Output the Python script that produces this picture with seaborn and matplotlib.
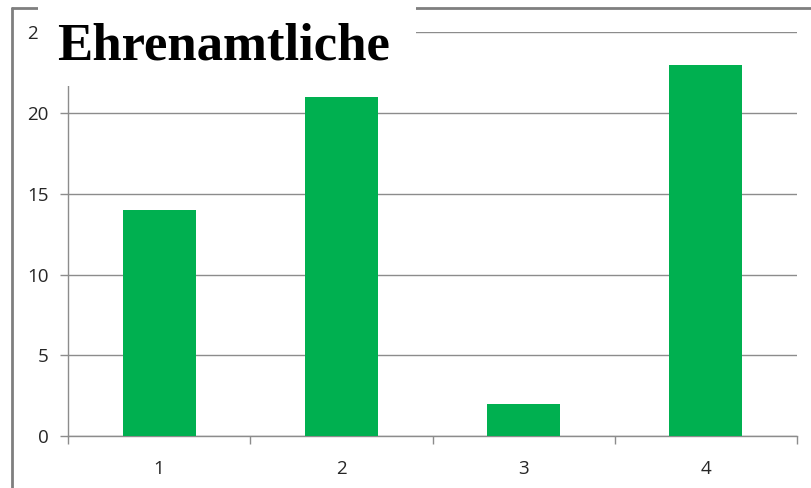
import matplotlib
matplotlib.use("Agg")
import matplotlib.pyplot as plt
import numpy as np
import pandas as pd
import seaborn as sns
from matplotlib.lines import Line2D
from matplotlib.patches import Rectangle

# chart data
categories = ["1", "2", "3", "4"]
values = [14, 21, 2, 23]
y_ticks = [0, 5, 10, 15, 20, 25]
title = "Ehrenamtliche"

sns.set_theme(style="white")
plt.rcParams["font.family"] = ["Open Sans", "DejaVu Sans"]

df = pd.DataFrame({"cat": categories, "val": values})

fig = plt.figure(figsize=(8.11, 4.88), dpi=100)
ax = fig.add_axes([68 / 811, 52 / 488, (797 - 68) / 811, (436 - 32.3) / 488])

sns.barplot(data=df, x="cat", y="val", color="#00B050", width=0.4,
            saturation=1, linewidth=0, ax=ax, zorder=3)

grid_c = "#8c8c8c"
ax.set_ylim(0, 25)
ax.set_xlim(-0.5, 3.5)
ax.set_yticks(y_ticks)
ax.yaxis.grid(True, color=grid_c, linewidth=1)
ax.set_axisbelow(True)
ax.set_xlabel("")
ax.set_ylabel("")

for s in ["top", "right"]:
    ax.spines[s].set_visible(False)
for s in ["left", "bottom"]:
    ax.spines[s].set_color(grid_c)
    ax.spines[s].set_linewidth(1)

ax.tick_params(axis="y", left=True, length=6, width=1, color=grid_c,
               labelsize=13.5, labelcolor="#262626", pad=8)
ax.tick_params(axis="x", bottom=False, labelsize=13.5, labelcolor="#262626", pad=11)
ax.set_xticks(np.arange(-0.5, 4, 1), minor=True)
ax.tick_params(axis="x", which="minor", bottom=True, length=6, width=1,
               color=grid_c)

# outer frame of the slide box
frame_c = "#7f7f7f"
fig.add_artist(Line2D([12 / 811, 12 / 811], [0, 1 - 8 / 488],
                      transform=fig.transFigure, color=frame_c, linewidth=2))
fig.add_artist(Line2D([12 / 811, 1], [1 - 8 / 488, 1 - 8 / 488],
                      transform=fig.transFigure, color=frame_c, linewidth=2))

# white title box overlapping the chart
fig.add_artist(Rectangle((38 / 811, 1 - 86 / 488), (416 - 38) / 811, 86 / 488,
                         transform=fig.transFigure, facecolor="white",
                         edgecolor="none", zorder=10))
fig.text(57 / 811, 1 - 60 / 488, title, fontsize=38, fontweight="bold",
         family=["Liberation Serif", "DejaVu Serif"], color="black",
         ha="left", va="baseline", zorder=11)

fig.savefig("out.png", dpi=100)
